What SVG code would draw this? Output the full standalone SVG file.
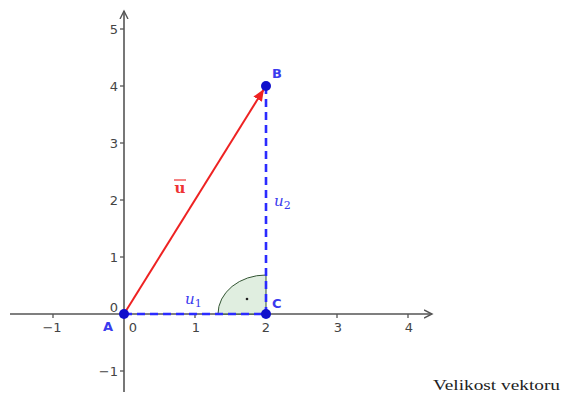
<svg xmlns="http://www.w3.org/2000/svg" width="567" height="394" viewBox="0 0 567 394">
<style>
.ax{stroke:#555;stroke-width:1.6;fill:none}
.tk{stroke:#555;stroke-width:1.3}
.num{font-family:"DejaVu Sans",sans-serif;font-size:13px;fill:#444}
.dash{stroke:#2b2bff;stroke-width:2.6;stroke-dasharray:8 5;fill:none}
.lbl{font-family:"DejaVu Sans",sans-serif;font-size:13px;fill:#3a3aee;font-weight:bold}
.it{font-family:"DejaVu Serif",serif;font-style:italic;font-size:15px;fill:#3a3aee}
</style>
<defs>
<marker id="ah" markerWidth="10" markerHeight="10" refX="8" refY="5" orient="auto" markerUnits="userSpaceOnUse">
<path d="M0,1 L8,5 L0,9" fill="none" stroke="#555" stroke-width="1.4"/>
</marker>
<marker id="rh" markerWidth="14" markerHeight="12" refX="12" refY="6" orient="auto" markerUnits="userSpaceOnUse">
<path d="M0,1 L12,6 L0,11 Z" fill="#ee2222"/>
</marker>
</defs>
<g id="axes">
<line class="ax" x1="10" y1="314" x2="432" y2="314" marker-end="url(#ah)"/>
<line class="ax" x1="124" y1="392" x2="124" y2="11" marker-end="url(#ah)"/>
<g class="tk">
<line x1="53" y1="314" x2="53" y2="318"/><line x1="195" y1="314" x2="195" y2="318"/><line x1="266" y1="314" x2="266" y2="318"/><line x1="337" y1="314" x2="337" y2="318"/><line x1="408" y1="314" x2="408" y2="318"/>
<line x1="120" y1="371" x2="124" y2="371"/><line x1="120" y1="257" x2="124" y2="257"/><line x1="120" y1="200" x2="124" y2="200"/><line x1="120" y1="143" x2="124" y2="143"/><line x1="120" y1="86" x2="124" y2="86"/><line x1="120" y1="29" x2="124" y2="29"/>
</g>
<g class="num" text-anchor="middle">
<text x="52" y="332">−1</text><text x="133" y="332">0</text><text x="196" y="332">1</text><text x="266" y="332">2</text><text x="338" y="332">3</text><text x="409" y="332">4</text>
</g>
<g class="num" text-anchor="end">
<text x="118" y="376">−1</text><text x="118" y="312">0</text><text x="118" y="262">1</text><text x="118" y="205">2</text><text x="118" y="148">3</text><text x="118" y="91">4</text><text x="118" y="34">5</text>
</g>
</g>
<g id="angle">
<path d="M266,314 L218,314 A48,39 0 0 1 266,275 Z" fill="#d8ead8" fill-opacity="0.8" stroke="#335533" stroke-width="1"/>
<circle cx="247" cy="299" r="1.3" fill="#222"/>
</g>
<g id="connectors">
<line class="dash" x1="124" y1="314" x2="266" y2="314"/>
<line class="dash" x1="266" y1="86" x2="266" y2="314"/>
<line x1="124" y1="314" x2="264" y2="89" stroke="#ee2222" stroke-width="2" marker-end="url(#rh)"/>
</g>
<g id="A"><circle cx="124" cy="314" r="5" fill="#1010cc"/><text class="lbl" x="103" y="331" font-size="14">A</text></g>
<g id="B"><circle cx="266" cy="86" r="5" fill="#1010cc"/><text class="lbl" x="272" y="78">B</text></g>
<g id="C"><circle cx="266" cy="314" r="5" fill="#1010cc"/><text class="lbl" x="272" y="308" font-size="16">C</text></g>
<g id="labels">
<text x="180" y="193" font-family="DejaVu Serif,serif" font-size="15" font-weight="bold" fill="#ee3333" text-anchor="middle">u</text>
<line x1="174" y1="180" x2="186" y2="180" stroke="#ee3333" stroke-width="1.2"/>
<text class="it" x="274" y="206">u<tspan font-size="11" dy="3" font-style="normal">2</tspan></text>
<text class="it" x="185" y="304">u<tspan font-size="11" dy="3" font-style="normal">1</tspan></text>
<text x="433" y="390" font-family="Liberation Serif,serif" font-size="15" fill="#222" textLength="127" lengthAdjust="spacingAndGlyphs">Velikost vektoru</text>
</g>
</svg>
